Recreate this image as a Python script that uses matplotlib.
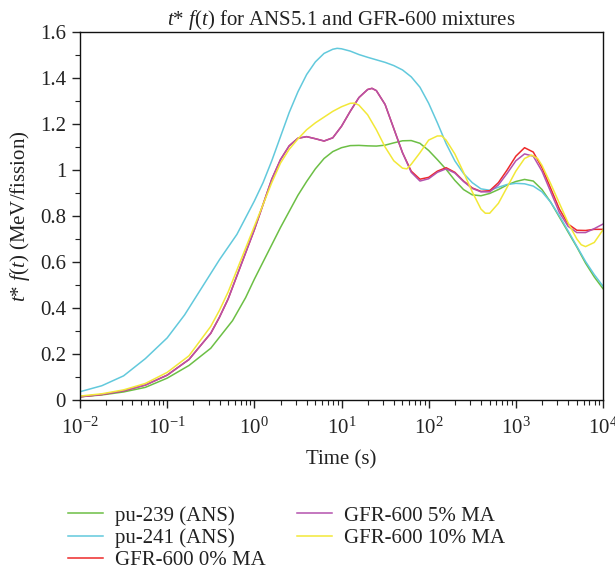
import matplotlib
matplotlib.use("Agg")
import matplotlib.pyplot as plt
import numpy as np
from matplotlib.ticker import FuncFormatter, MultipleLocator, LogLocator

plt.rcParams['font.family'] = ['Liberation Serif', 'DejaVu Serif']
plt.rcParams['mathtext.fontset'] = 'custom'
plt.rcParams['mathtext.rm'] = 'Liberation Serif'
plt.rcParams['mathtext.it'] = 'Liberation Serif:italic'
plt.rcParams['mathtext.bf'] = 'Liberation Serif:bold'

# ---- data (log10 of time in s, value in MeV/fission) ----
pu239_logt = [-2.0, -1.75, -1.5, -1.25, -1.0, -0.75, -0.5, -0.25, -0.1, 0.0, 0.1, 0.2, 0.3, 0.4,
              0.5, 0.6, 0.7, 0.8, 0.9, 1.0, 1.1, 1.2, 1.3, 1.4, 1.5, 1.6, 1.7, 1.8, 1.9, 2.0, 2.1,
              2.2, 2.3, 2.4, 2.5, 2.6, 2.7, 2.8, 2.9, 3.0, 3.1, 3.2, 3.3, 3.4, 3.5, 3.6, 3.7, 3.8,
              3.9, 4.0]
pu239_val = [0.014, 0.022, 0.035, 0.055, 0.095, 0.150, 0.225, 0.345, 0.445, 0.525, 0.600, 0.675,
             0.750, 0.820, 0.890, 0.950, 1.005, 1.050, 1.080, 1.097, 1.106, 1.107, 1.105, 1.104,
             1.108, 1.118, 1.127, 1.128, 1.116, 1.085, 1.045, 1.003, 0.955, 0.915, 0.892, 0.888,
             0.898, 0.915, 0.935, 0.950, 0.959, 0.952, 0.915, 0.860, 0.795, 0.730, 0.665, 0.595,
             0.535, 0.484]

pu241_logt = [-2.0, -1.75, -1.5, -1.25, -1.0, -0.8, -0.6, -0.4, -0.2, 0.0, 0.1, 0.2, 0.3, 0.4,
              0.5, 0.6, 0.7, 0.8, 0.9, 0.95, 1.0, 1.1, 1.2, 1.3, 1.4, 1.5, 1.6, 1.7, 1.8, 1.9, 2.0,
              2.1, 2.2, 2.3, 2.4, 2.5, 2.6, 2.7, 2.8, 2.9, 3.0, 3.1, 3.2, 3.3, 3.4, 3.5, 3.6, 3.7,
              3.8, 3.9, 4.0]
pu241_val = [0.036, 0.062, 0.105, 0.180, 0.270, 0.370, 0.490, 0.610, 0.720, 0.865, 0.945, 1.040,
             1.145, 1.250, 1.340, 1.415, 1.470, 1.507, 1.525, 1.529, 1.527, 1.517, 1.502, 1.490,
             1.479, 1.468, 1.454, 1.435, 1.405, 1.360, 1.290, 1.205, 1.115, 1.040, 0.985, 0.945,
             0.918, 0.912, 0.925, 0.937, 0.942, 0.940, 0.930, 0.905, 0.860, 0.800, 0.735, 0.668,
             0.602, 0.545, 0.495]

gfr0_logt = [-2.0, -1.75, -1.5, -1.25, -1.0, -0.75, -0.5, -0.4, -0.3, -0.2, -0.1, 0.0, 0.1, 0.2,
             0.3, 0.4, 0.5, 0.6, 0.7, 0.8, 0.9, 1.0, 1.1, 1.2, 1.3, 1.35, 1.4, 1.5, 1.6, 1.7, 1.8,
             1.9, 2.0, 2.1, 2.2, 2.3, 2.4, 2.5, 2.6, 2.7, 2.8, 2.9, 3.0, 3.1, 3.2, 3.3, 3.4, 3.5,
             3.6, 3.7, 3.8, 3.9, 4.0]
gfr0_val = [0.014, 0.024, 0.040, 0.065, 0.108, 0.176, 0.290, 0.360, 0.440, 0.540, 0.640, 0.740,
            0.850, 0.960, 1.045, 1.105, 1.138, 1.145, 1.136, 1.126, 1.140, 1.190, 1.255, 1.315,
            1.350, 1.355, 1.345, 1.285, 1.180, 1.075, 0.995, 0.960, 0.968, 0.995, 1.010, 0.990,
            0.952, 0.922, 0.907, 0.910, 0.945, 1.000, 1.060, 1.097, 1.078, 1.010, 0.920, 0.830,
            0.765, 0.738, 0.737, 0.742, 0.742]

gfr5_logt = gfr0_logt[:-2] + [3.9, 4.0]
gfr5_val = [0.014, 0.024, 0.040, 0.065, 0.108, 0.176, 0.290, 0.360, 0.440, 0.540, 0.640, 0.740,
            0.850, 0.960, 1.045, 1.105, 1.138, 1.145, 1.136, 1.126, 1.140, 1.190, 1.255, 1.315,
            1.350, 1.355, 1.345, 1.285, 1.180, 1.075, 0.990, 0.952, 0.962, 0.990, 1.005, 0.987,
            0.950, 0.920, 0.905, 0.905, 0.935, 0.985, 1.040, 1.070, 1.060, 0.995, 0.905, 0.815,
            0.755, 0.728, 0.728, 0.745, 0.765]

gfr10_logt = [-2.0, -1.75, -1.5, -1.25, -1.0, -0.75, -0.5, -0.4, -0.3, -0.2, -0.1, 0.0, 0.1, 0.2,
              0.3, 0.4, 0.5, 0.6, 0.7, 0.8, 0.9, 1.0, 1.1, 1.15, 1.2, 1.3, 1.4, 1.5, 1.6, 1.7,
              1.75, 1.8, 1.9, 2.0, 2.1, 2.15, 2.2, 2.3, 2.4, 2.5, 2.6, 2.65, 2.7, 2.8, 2.9, 3.0,
              3.1, 3.18, 3.25, 3.3, 3.4, 3.5, 3.6, 3.7, 3.75, 3.8, 3.9, 4.0]
gfr10_val = [0.017, 0.027, 0.044, 0.072, 0.120, 0.192, 0.320, 0.390, 0.470, 0.565, 0.660, 0.755,
             0.850, 0.945, 1.030, 1.090, 1.135, 1.175, 1.205, 1.230, 1.255, 1.275, 1.290, 1.291,
             1.282, 1.240, 1.175, 1.100, 1.040, 1.008, 1.005, 1.025, 1.075, 1.130, 1.148, 1.148,
             1.130, 1.070, 0.990, 0.905, 0.830, 0.812, 0.812, 0.855, 0.925, 0.995, 1.050, 1.065,
             1.050, 1.020, 0.940, 0.855, 0.770, 0.700, 0.675, 0.667, 0.685, 0.740]

labels = ["pu-239 (ANS)", "pu-241 (ANS)", "GFR-600 0% MA", "GFR-600 5% MA", "GFR-600 10% MA"]
colors = ["#6cbf45", "#62c9dc", "#ee2a2a", "#b452ad", "#f2e838"]

series = [(pu239_logt, pu239_val), (pu241_logt, pu241_val), (gfr0_logt, gfr0_val),
          (gfr5_logt, gfr5_val), (gfr10_logt, gfr10_val)]

fig = plt.figure(figsize=(6.15, 5.73), dpi=100)
ax = fig.add_axes([80/615, 1-400/573, (603-80)/615, (400-32)/573])

for (lt, v), lab, c in zip(series, labels, colors):
    ax.plot(10**np.array(lt), v, color=c, lw=1.1, label=lab)

ax.set_xscale('log')
ax.set_xlim(1e-2, 1e4)
ax.set_ylim(0, 1.6)
ax.yaxis.set_major_locator(MultipleLocator(0.2))
ax.yaxis.set_minor_locator(MultipleLocator(0.1))
ax.yaxis.set_major_formatter(FuncFormatter(lambda v, p: "%g" % round(v, 2)))
ax.xaxis.set_major_locator(LogLocator(base=10, numticks=10))
ax.xaxis.set_minor_locator(LogLocator(base=10, subs=np.arange(2, 10), numticks=20))

ax.tick_params(which='both', direction='out', top=False, right=False, labelsize=15, colors='#222222')
ax.tick_params(which='major', length=6, width=1.0, pad=4)
ax.tick_params(which='minor', length=3.5, width=0.8)
ax.tick_params(axis='x', which='major', pad=7)
for s in ax.spines.values():
    s.set_linewidth(1.0)
    s.set_color('#111111')

ax.set_title(r"$t$* $f(t)$ for ANS5.1 and GFR-600 mixtures", fontsize=15, pad=4, color='#222222')
ax.set_xlabel("Time (s)", fontsize=15, labelpad=8, color='#222222')
ax.set_ylabel(r"$t$* $f(t)$ (MeV/fission)", fontsize=15, labelpad=6, color='#222222')

leg = fig.legend(loc='upper left', bbox_to_anchor=(68/615, 1-506/573), ncol=2, frameon=False,
                 fontsize=15, handlelength=1.7, columnspacing=1.5, labelspacing=0.12,
                 handletextpad=0.55, borderpad=0, borderaxespad=0)
for t in leg.get_texts():
    t.set_color('#222222')

fig.savefig("out.png", dpi=100)
